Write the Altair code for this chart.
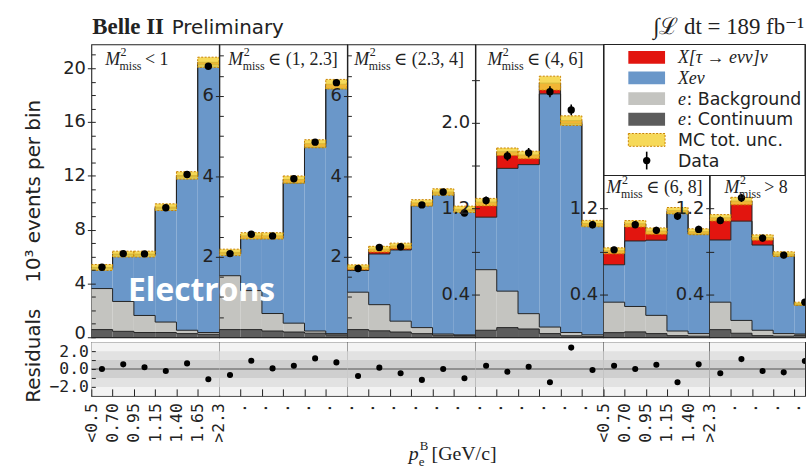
import json
import altair as alt
import pandas as pd

# ---------------- style ----------------
INK = "#222222"
SANS = "DejaVu Sans"
MONO = "DejaVu Sans Mono"
SERIF = "Liberation Serif, DejaVu Serif, serif"

C_CONT = "#5c5c5c"
C_BKG = "#c4c4c0"
C_SIG = "#6a97c9"
C_TAU = "#e2150f"
C_UNC = "#f5d23c"
C_UNC_EDGE = "#c98200"
SHADES = ["#f3f3f3", "#e2e2e2", "#cfcfcf"]

# ---------------- data ----------------
# M_miss^2 slice labels: the relation / interval that follows "M²miss"
PANEL_RANGES = ["< 1", "∈ (1, 2.3]", "∈ (2.3, 4]", "∈ (4, 6]", "∈ (6, 8]", "> 8"]
EDGE_LABELS_6 = ["<0.5", "0.70", "0.95", "1.15", "1.40", "1.65", ">2.3"]
EDGE_LABELS_5 = ["<0.5", "0.70", "0.95", "1.15", "1.40", ">2.3"]

# stacked components (10^3 events per bin), one list per M_miss^2 slice
continuum = [
    [0.57, 0.44, 0.35, 0.35, 0.27, 0.22],
    [0.19, 0.19, 0.155, 0.13, 0.10, 0.06],
    [0.19, 0.16, 0.13, 0.09, 0.05, 0.04],
    [0.065, 0.09, 0.077, 0.034, 0.014, 0.009],
    [0.043, 0.05, 0.034, 0.015, 0.01],
    [0.071, 0.037, 0.015, 0.01, 0.02],
]
background = [
    [3.05, 2.22, 1.27, 0.78, 0.25, 0.13],
    [1.34, 0.97, 0.435, 0.22, 0.055, 0.03],
    [0.93, 0.65, 0.27, 0.15, 0.03, 0.02],
    [0.565, 0.34, 0.143, 0.061, 0.03, 0.014],
    [0.284, 0.237, 0.17, 0.043, 0.024],
    [0.256, 0.12, 0.05, 0.024, 0.01],
]
signal = [
    [1.52, 3.47, 4.50, 8.46, 11.41, 19.94],
    [0.54, 1.30, 1.87, 3.49, 4.575, 6.10],
    [0.54, 1.26, 1.77, 3.03, 3.48, 3.08],
    [0.49, 1.145, 1.39, 2.175, 1.946, 1.017],
    [0.349, 0.611, 0.701, 1.102, 0.93],
    [0.58, 0.926, 0.795, 0.726, 0.272],
]
tau = [
    [0.05, 0.05, 0.06, 0.08, 0.10, 0.15],
    [0.04, 0.06, 0.06, 0.08, 0.08, 0.10],
    [0.08, 0.12, 0.10, 0.07, 0.05, 0.04],
    [0.14, 0.155, 0.09, 0.10, 0.03, 0.02],
    [0.13, 0.16, 0.085, 0.02, 0.02],
    [0.207, 0.187, 0.07, 0.015, 0.01],
]
mc_unc = [
    [0.22, 0.22, 0.22, 0.25, 0.28, 0.38],
    [0.08, 0.08, 0.08, 0.09, 0.10, 0.12],
    [0.06, 0.07, 0.07, 0.08, 0.08, 0.08],
    [0.035, 0.035, 0.035, 0.065, 0.045, 0.03],
    [0.028, 0.03, 0.03, 0.03, 0.028],
    [0.03, 0.035, 0.025, 0.022, 0.015],
]
data = [
    [5.20, 6.22, 6.20, 9.63, 12.10, 20.15],
    [2.08, 2.56, 2.52, 3.94, 4.85, 6.33],
    [1.71, 2.23, 2.25, 3.29, 3.61, 3.09],
    [1.275, 1.69, 1.72, 2.29, 2.12, 1.05],
    [0.815, 1.05, 0.997, 1.13, 1.006],
    [1.09, 1.30, 0.925, 0.766, 0.327],
]
data_err = [
    [0.08, 0.09, 0.09, 0.11, 0.12, 0.16],
    [0.05, 0.055, 0.055, 0.07, 0.075, 0.085],
    [0.045, 0.05, 0.05, 0.06, 0.065, 0.06],
    [0.038, 0.044, 0.044, 0.052, 0.05, 0.035],
    [0.03, 0.034, 0.033, 0.036, 0.034],
    [0.035, 0.038, 0.032, 0.029, 0.019],
]
resid = [
    [0.0, 0.52, 0.19, -0.22, 0.63, -1.15],
    [-0.67, 0.93, 0.07, 0.37, 1.19, 0.74],
    [-0.78, 0.15, -0.48, -1.22, 0.0, -1.04],
    [0.37, -0.3, 0.26, -1.48, 2.4, -0.11],
    [0.37, 0.0, 0.48, -1.48, 0.52],
    [-0.48, 1.11, -0.22, -0.37, 0.89],
]

LEG_SERIF = ["X[τ → eνν]ν", "Xeν", "e", "e", "", ""]
LEG_SANS = ["", "", ": Background", ": Continuum", "MC tot. unc.", "Data"]

# ---------------- axes / layout settings ----------------
Y_MAX = [21.77, 7.28, 7.28, 2.731, 2.731, 2.731]
Y_MAJOR = [[0, 4, 8, 12, 16, 20], [2, 4, 6], [2, 4, 6],
           [0.4, 0.8, 1.2, 1.6, 2.0, 2.4], [0.4, 0.8, 1.2], [0.4, 0.8, 1.2]]
Y_LABELED = [[0, 4, 8, 12, 16, 20], [2, 4, 6], [2, 4, 6],
             [0.4, 1.2, 2.0], [0.4, 1.2], [0.4, 1.2]]
Y_MINOR = [[1, 2, 3, 5, 6, 7, 9, 10, 11, 13, 14, 15, 17, 18, 19, 21],
           [0.5, 1, 1.5, 2.5, 3, 3.5, 4.5, 5, 5.5, 6.5, 7],
           [0.5, 1, 1.5, 2.5, 3, 3.5, 4.5, 5, 5.5, 6.5, 7],
           [], [], []]
Y_FMT = ["d", "d", "d", ".1f", ".1f", ".1f"]

PANEL_W = [128.625] * 4 + [106.5, 96.0]
X_MAX = [6, 6, 6, 6, 5, 96.0 / 21.3]
MAIN_H = 295
RES_H = 54
LEG_H = 132          # legend box occupies the top of the last two slices
LABEL_X0 = [14, 9, 7, 12, 3, 15]
LABEL_Y = [21, 21, 21, 21, 150, 150]
Y_TITLE_X = -56

COMPONENTS = [
    ("continuum", continuum, C_CONT),
    ("background", background, C_BKG),
    ("signal", signal, C_SIG),
    ("tau", tau, C_TAU),
]


def stack_frames(p):
    n = len(data[p])
    rows, steps = [], []
    base = [0.0] * n
    for name, arr, col in COMPONENTS:
        vals = arr[p]
        tops = [base[i] + vals[i] for i in range(n)]
        for i in range(n):
            rows.append(dict(comp=name, col=col, lo=i, hi=i + 1, y0=base[i], y1=tops[i]))
            steps.append(dict(comp=name, edge=i, top=tops[i]))
        steps.append(dict(comp=name, edge=n, top=tops[-1]))
        base = tops
    pts = pd.DataFrame({
        "lo": list(range(n)),
        "hi": list(range(1, n + 1)),
        "mid": [i + 0.5 for i in range(n)],
        "mc_lo": [base[i] - mc_unc[p][i] for i in range(n)],
        "mc_hi": [base[i] + mc_unc[p][i] for i in range(n)],
        "data": data[p],
        "d_lo": [data[p][i] - data_err[p][i] for i in range(n)],
        "d_hi": [data[p][i] + data_err[p][i] for i in range(n)],
    })
    return pd.DataFrame(rows), pd.DataFrame(steps), pts


def y_axis_main(p):
    labeled = json.dumps(Y_LABELED[p])
    kw = dict(
        orient="left", values=Y_MAJOR[p],
        labelExpr=f"indexof({labeled}, datum.value) >= 0 ? format(datum.value, '{Y_FMT[p]}') : ''",
        tickSize=8, offset=-4, domain=False, grid=False, zindex=1,
        tickColor=INK, tickWidth=1, labelColor=INK, labelFont=SANS, labelFontSize=18,
        labelPadding=2, labelFlush=False, labelOverlap=False,
    )
    if p == 0:
        # lift the "0" slightly so it clears the residual panel's top label
        kw["labelOffset"] = {"condition": {"test": "datum.value == 0", "value": -4}, "value": 0}
        kw.update(title="10³ events per bin", titleFont=SANS, titleFontSize=20,
                  titleFontWeight="normal", titleColor=INK, titleX=Y_TITLE_X, titleY=147.5,
                  titleAngle=270, titleAlign="center", titleBaseline="alphabetic")
    else:
        kw["title"] = None
    return alt.Axis(**kw)


def y_axis_minor(p):
    return alt.Axis(orient="left", values=Y_MINOR[p], labels=False, tickSize=4, offset=-4,
                    domain=False, grid=False, zindex=1, tickColor=INK, tickWidth=1, title=None)


def text_layer(s, x, y, **mk):
    return alt.Chart(pd.DataFrame({"t": [s]})).mark_text(**mk).encode(
        x=alt.value(x), y=alt.value(y), text="t:N"
    )


def stacked_symbol(base, sup, sub, rest, x0, y0, big, small, sup_dx, sub_dx, rest_dx):
    # italic symbol with a superscript and a subscript, followed by plain text
    common = dict(font=SERIF, color=INK, align="left", baseline="alphabetic")
    return [
        text_layer(base, x0, y0, fontSize=big, fontStyle="italic", **common),
        text_layer(sup, x0 + sup_dx, y0 - big * 0.5, fontSize=small, **common),
        text_layer(sub, x0 + sub_dx, y0 + big * 0.28, fontSize=small, **common),
        text_layer(rest, x0 + rest_dx, y0, fontSize=big, **common),
    ]


def slice_label(p):
    return stacked_symbol("M", "2", "miss", PANEL_RANGES[p], LABEL_X0[p], LABEL_Y[p],
                          18, 12, 15.5, 14.5, 40)


def legend_layers():
    # legend rows get their own scale; the box itself frames the upper-right corner
    ly = alt.Scale(domain=[-0.625, 13.558], reverse=True, nice=False, zero=False)
    df = pd.DataFrame({
        "idx": list(range(6)),
        "serif": LEG_SERIF,
        "sans": LEG_SANS,
        "col": [C_TAU, C_SIG, C_BKG, C_CONT, C_UNC, INK],
    })
    df["y0"] = df["idx"] - 0.31
    df["y1"] = df["idx"] + 0.31
    df["e0"] = df["idx"] - 0.43
    df["e1"] = df["idx"] + 0.43
    left = -PANEL_W[4]          # box starts at the left edge of the (6, 8] slice

    frame = alt.Chart(pd.DataFrame({"k": [0]})).mark_rect(
        fill="white", stroke=INK, strokeWidth=1.1
    ).encode(x=alt.value(left), x2=alt.value(PANEL_W[5]), y=alt.value(0), y2=alt.value(LEG_H))
    swatches = alt.Chart(df[df["idx"] < 4]).mark_rect().encode(
        x=alt.value(left + 24.5), x2=alt.value(left + 61.5),
        y=alt.Y("y0:Q", scale=ly, axis=None), y2="y1:Q",
        color=alt.Color("col:N", scale=None),
    )
    unc = alt.Chart(df[df["idx"] == 4]).mark_rect(
        fill=C_UNC, fillOpacity=0.85, stroke=C_UNC_EDGE, strokeWidth=1, strokeDash=[2, 1.5]
    ).encode(
        x=alt.value(left + 24.5), x2=alt.value(left + 61.5),
        y=alt.Y("y0:Q", scale=ly, axis=None), y2="y1:Q",
    )
    err = alt.Chart(df[df["idx"] == 5]).mark_rule(color="black", strokeWidth=1.6).encode(
        x=alt.value(left + 43), y=alt.Y("e0:Q", scale=ly, axis=None), y2="e1:Q"
    )
    dot = alt.Chart(df[df["idx"] == 5]).mark_circle(color="black", size=55, opacity=1).encode(
        x=alt.value(left + 43), y=alt.Y("idx:Q", scale=ly, axis=None)
    )
    t_serif = alt.Chart(df[df["serif"] != ""]).mark_text(
        font=SERIF, fontStyle="italic", fontSize=18, align="left", baseline="middle",
        color=INK, dy=1
    ).encode(x=alt.value(left + 74.5), y=alt.Y("idx:Q", scale=ly, axis=None), text="serif:N")
    t_after = alt.Chart(df[(df["serif"] != "") & (df["sans"] != "")]).mark_text(
        font=SANS, fontSize=17.5, align="left", baseline="middle", color=INK, dy=1
    ).encode(x=alt.value(left + 83), y=alt.Y("idx:Q", scale=ly, axis=None), text="sans:N")
    t_plain = alt.Chart(df[(df["serif"] == "") & (df["sans"] != "")]).mark_text(
        font=SANS, fontSize=17.5, align="left", baseline="middle", color=INK, dy=1
    ).encode(x=alt.value(left + 74.5), y=alt.Y("idx:Q", scale=ly, axis=None), text="sans:N")
    return [frame, swatches, unc, err, dot, t_serif, t_after, t_plain]


def main_panel(p):
    bars_df, steps_df, pts_df = stack_frames(p)
    xs = alt.Scale(domain=[0, X_MAX[p]], nice=False, zero=False)
    ys = alt.Scale(domain=[0, Y_MAX[p]], nice=False, zero=False)

    bars = alt.Chart(bars_df).mark_rect(clip=True).encode(
        x=alt.X("lo:Q", scale=xs, axis=None), x2="hi:Q",
        y=alt.Y("y0:Q", scale=ys, axis=y_axis_main(p)), y2="y1:Q",
        color=alt.Color("col:N", scale=None),
    )
    steps = alt.Chart(steps_df).mark_line(
        interpolate="step-after", clip=True, color=INK, strokeWidth=1
    ).encode(
        x=alt.X("edge:Q", scale=xs, axis=None),
        y=alt.Y("top:Q", scale=ys, axis=y_axis_minor(p) if Y_MINOR[p] else None),
        detail="comp:N",
    )
    unc = alt.Chart(pts_df).mark_rect(
        clip=True, fill=C_UNC, fillOpacity=0.85, stroke=C_UNC_EDGE,
        strokeWidth=1, strokeDash=[2, 1.5]
    ).encode(
        x=alt.X("lo:Q", scale=xs, axis=None), x2="hi:Q",
        y=alt.Y("mc_lo:Q", scale=ys, axis=None), y2="mc_hi:Q",
    )
    err = alt.Chart(pts_df).mark_rule(clip=True, color="black", strokeWidth=1.6).encode(
        x=alt.X("mid:Q", scale=xs, axis=None),
        y=alt.Y("d_lo:Q", scale=ys, axis=None), y2="d_hi:Q",
    )
    dots = alt.Chart(pts_df).mark_circle(clip=True, color="black", size=55, opacity=1).encode(
        x=alt.X("mid:Q", scale=xs, axis=None),
        y=alt.Y("data:Q", scale=ys, axis=None),
    )
    layers = [bars, steps, unc, err, dots]

    if p == 0:
        layers.append(text_layer("Belle II", 1, -11, font=SERIF, fontWeight="bold",
                                 fontSize=23, align="left", baseline="alphabetic", color=INK))
        layers.append(text_layer("Preliminary", 81, -11, font=SANS, fontSize=20,
                                 align="left", baseline="alphabetic", color=INK))
    if p == 1:
        layers.append(text_layer("Electrons", -18, 258, font="Open Sans", fontWeight="bold",
                                 fontSize=32, color="white", align="center",
                                 baseline="alphabetic"))
    if p == 5:
        layers += legend_layers()
        layers.append(text_layer("∫ℒ dt = 189 fb⁻¹", -57, -11, font=SERIF, fontSize=23,
                                 align="left", baseline="alphabetic", color=INK))

    layers += slice_label(p)

    chart = alt.layer(*layers).properties(width=PANEL_W[p], height=MAIN_H)
    if p == 5:
        chart = chart.resolve_scale(y="independent")
    else:
        chart = chart.resolve_axis(y="independent")
    return chart


def x_axis_res(p):
    n = len(resid[p])
    kw = dict(
        orient="bottom", labelAngle=270, tickSize=7, offset=-7, domain=False, grid=False,
        zindex=1, tickColor=INK, tickWidth=1, labelColor=INK, labelFont=MONO,
        labelFontSize=16.5, labelPadding=7, labelFlush=False, labelOverlap=False,
        title=None,
    )
    if p in (0, 4):
        names = EDGE_LABELS_6 if p == 0 else EDGE_LABELS_5
        kw["values"] = list(range(n + 1))
        kw["labelExpr"] = f"{json.dumps(names)}[datum.value]"
    else:
        last = n if p in (1, 2) else n - 1
        kw["values"] = list(range(1, last + 1))
        kw["labelExpr"] = "'.'"
    return alt.Axis(**kw)


def y_axis_res():
    return alt.Axis(
        orient="left", values=[-2, -1, 0, 1, 2],
        labelExpr="datum.value % 2 == 0 ? format(datum.value, '.1f') : ''",
        tickSize=4, offset=-4, domain=False, grid=False, zindex=1,
        tickColor=INK, labelColor=INK, labelFont=MONO, labelFontSize=16.5,
        labelPadding=3, labelFlush=False, labelOverlap=False,
        title="Residuals", titleFont=SANS, titleFontSize=20, titleFontWeight="normal",
        titleColor=INK, titleX=Y_TITLE_X, titleY=13, titleAngle=270, titleAlign="center",
        titleBaseline="alphabetic",
    )


def resid_panel(p):
    n = len(resid[p])
    xs = alt.Scale(domain=[0, X_MAX[p]], nice=False, zero=False)
    ys = alt.Scale(domain=[-3, 3], nice=False, zero=False)
    bands = alt.Chart(pd.DataFrame({"b0": [-3, -2, -1], "b1": [3, 2, 1], "shade": SHADES})).mark_rect().encode(
        x=alt.XDatum(0, scale=xs, axis=None), x2=alt.X2Datum(X_MAX[p]),
        y=alt.Y("b0:Q", scale=ys, axis=None), y2="b1:Q",
        color=alt.Color("shade:N", scale=None),
    )
    zero = alt.Chart(pd.DataFrame({"z": [0]})).mark_rule(color="#555555", strokeWidth=1.2).encode(
        y=alt.Y("z:Q", scale=ys, axis=None)
    )
    pts = alt.Chart(pd.DataFrame({"mid": [i + 0.5 for i in range(n)], "r": resid[p]})).mark_circle(
        clip=True, color="black", size=38, opacity=1
    ).encode(
        x=alt.X("mid:Q", scale=xs, axis=x_axis_res(p)),
        y=alt.Y("r:Q", scale=ys, axis=y_axis_res() if p == 0 else None),
    )
    layers = [bands, zero, pts]
    if p == 2:
        # shared x-axis title, centred under the whole figure
        layers += stacked_symbol("p", "B", "e", "[GeV/c]", 61.75, 119, 20, 13, 11, 10, 23)
    return alt.layer(*layers).properties(
        width=PANEL_W[p], height=RES_H
    ).resolve_axis(x="independent", y="independent")


cells = [main_panel(p) for p in range(6)] + [resid_panel(p) for p in range(6)]

chart = alt.concat(
    *cells, columns=6, spacing={"row": 5, "column": 0}, bounds="flush", align="each"
).properties(
    padding={"left": 23, "top": 13, "right": 0, "bottom": 0},
    background="white",
).configure_view(stroke=INK, strokeWidth=1.1)

chart.save("out.html", embed_options={"renderer": "svg", "actions": False})
